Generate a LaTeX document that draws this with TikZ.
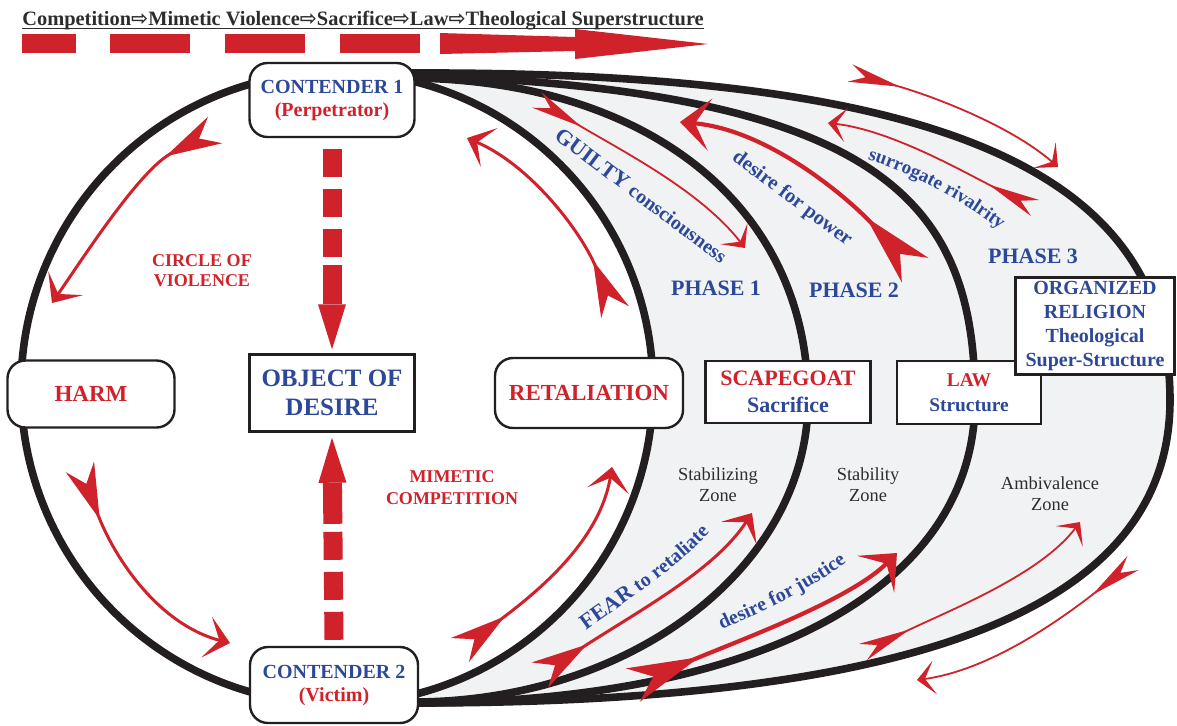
\documentclass[tikz,border=0pt]{standalone}
\usepackage{fontspec}
\setmainfont{Liberation Serif}
\newfontfamily\symfont{DejaVu Sans}
\usetikzlibrary{arrows.meta,decorations.text}
\definecolor{vred}{RGB}{207,34,42}
\definecolor{vblue}{RGB}{44,72,152}
\definecolor{vblack}{RGB}{35,31,32}
\definecolor{vgray}{RGB}{241,242,244}
\definecolor{vtext}{RGB}{45,45,45}
\begin{document}
\begin{tikzpicture}[x=0.5pt,y=-0.5pt,
  ring/.style={draw=vblack,line width=3.8pt},
  softbox/.style={draw=vblack,line width=1.2pt,fill=white,rounded corners=9pt,inner sep=0pt,align=center},
  hardbox/.style={draw=vblack,line width=1.2pt,fill=white,inner sep=0pt,align=center},
  dashup/.style={draw=vred,line width=9.5pt,dash pattern=on 14pt off 6pt on 14pt off 6pt on 14pt off 4pt on 60pt,-{Triangle[length=22.5pt,width=14pt,line width=0pt]}},
  thinarrow/.style={draw=vred,line width=0.9pt,arrows={Stealth[reversed,length=26pt,width=9pt,inset=8pt]-Stealth[length=9pt,width=17pt,inset=5pt]}},
  midarrow/.style={draw=vred,line width=1.5pt,arrows={Stealth[reversed,length=28pt,width=15pt,inset=9pt]-Stealth[length=12pt,width=21pt,inset=6.5pt]}},
  bigarrow/.style={draw=vred,line width=2.1pt,arrows={Stealth[reversed,length=36pt,width=18pt,inset=11pt]-Stealth[length=15pt,width=26pt,inset=7.5pt]}},
  curvetext/.style={decorate,decoration={text along path,text align=center,text color=vblue,text={#1}}},
]
\useasboundingbox (0,0) rectangle (1177,725);
\fill[vgray] (410,73) .. controls (942,73) and (1170,171) .. (1170,400) .. controls (1170,606) and (927,703) .. (413,703) -- cycle;
\fill[white] (337,388) circle [radius=316];
\draw[ring] (410,78) .. controls (649,80) and (808,207) .. (808,400) .. controls (808,567) and (631,702) .. (413,702);
\draw[ring] (410,75) .. controls (880,90) and (975,200) .. (975,400) .. controls (975,588) and (761,703) .. (413,703);
\draw[ring] (410,73) .. controls (942,71) and (1170,171) .. (1170,400) .. controls (1170,606) and (927,703) .. (413,703);
\draw[ring] (337,388) circle [radius=316];

\draw[midarrow] (215,130) .. controls (140,170) and (85,255) .. (52,303);
\draw[midarrow] (80,467) .. controls (115,560) and (160,625) .. (230,643);
\draw[midarrow] (615,312) .. controls (580,230) and (530,165) .. (467,138);
\draw[midarrow] (460,650) .. controls (540,590) and (600,540) .. (612,467);
\draw[thinarrow] (537,100) .. controls (620,150) and (700,190) .. (745,248);
\draw[midarrow] (540,675) .. controls (640,610) and (715,570) .. (752,513);
\draw[bigarrow] (915,270) .. controls (850,200) and (770,130) .. (680,122);
\draw[bigarrow] (633,685) .. controls (740,640) and (850,600) .. (897,553);
\draw[thinarrow] (1035,208) .. controls (960,170) and (890,130) .. (828,123);
\draw[thinarrow] (863,652) .. controls (950,610) and (1040,575) .. (1080,522);
\draw[thinarrow] (850,73) .. controls (930,95) and (1010,125) .. (1058,167);
\draw[thinarrow] (1133,563) .. controls (1060,620) and (990,670) .. (917,680);

\path[curvetext={|\fontsize{11}{13}\selectfont\bfseries|GUILTY |\fontsize{10}{12}\selectfont\bfseries|consciousness}] (545,132) -- (729,270);
\path[curvetext={|\fontsize{10.3}{12}\selectfont\bfseries|desire for power}] (725,155) -- (853,251);
\path[curvetext={|\fontsize{9.5}{11}\selectfont\bfseries|surrogate rivalrity}] (855,156) .. controls (900,168) and (960,196) .. (1010,238);
\path[curvetext={|\fontsize{11}{13}\selectfont\bfseries|FEAR |\fontsize{10}{12}\selectfont\bfseries|to retaliate}] (578,636) .. controls (620,605) and (680,568) .. (716,525);
\path[curvetext={|\fontsize{10}{12}\selectfont\bfseries|desire for justice}] (711,635) .. controls (746,618) and (806,595) .. (856,555);

\node[font=\fontsize{9}{10}\selectfont\bfseries,text=vred,align=center] (violence) at (202,271) {CIRCLE OF\\VIOLENCE};
\node[font=\fontsize{9}{11}\selectfont\bfseries,text=vred,align=center] (mimetic) at (452,488) {MIMETIC\\COMPETITION};
\node[font=\fontsize{11}{13}\selectfont\bfseries,text=vblue] (phase1) at (716,288) {PHASE 1};
\node[font=\fontsize{11}{13}\selectfont\bfseries,text=vblue] (phase2) at (854,290) {PHASE 2};
\node[font=\fontsize{11}{13}\selectfont\bfseries,text=vblue] (phase3) at (1033,256) {PHASE 3};
\node[font=\fontsize{9.2}{10.5}\selectfont,text=vtext,align=center] (zone1) at (718,485) {Stabilizing\\Zone};
\node[font=\fontsize{9.2}{10.5}\selectfont,text=vtext,align=center] (zone2) at (868,485) {Stability\\Zone};
\node[font=\fontsize{9.2}{10.5}\selectfont,text=vtext,align=center] (zone3) at (1050,494) {Ambivalence\\Zone};

\node[softbox,minimum width=82.5pt,minimum height=37pt,font=\fontsize{10}{11.5}\selectfont\bfseries] (con1) at (332,100) {\textcolor{vblue}{CONTENDER 1}\\\textcolor{vred}{(Perpetrator)}};
\node[softbox,minimum width=84pt,minimum height=38pt,font=\fontsize{10}{11.5}\selectfont\bfseries] (con2) at (334,685) {\textcolor{vblue}{CONTENDER 2}\\\textcolor{vred}{(Victim)}};
\node[softbox,minimum width=83.5pt,minimum height=33.5pt,font=\fontsize{11.5}{13}\selectfont\bfseries,text=vred] (harm) at (91,394) {HARM};
\node[hardbox,minimum width=82.5pt,minimum height=38.5pt,font=\fontsize{12.5}{14.5}\selectfont\bfseries,text=vblue] (object) at (332,393) {OBJECT OF\\DESIRE};
\node[softbox,minimum width=94pt,minimum height=35pt,font=\fontsize{11.5}{13}\selectfont\bfseries,text=vred] (retal) at (589,393) {RETALIATION};
\node[hardbox,minimum width=82.5pt,minimum height=31pt,font=\fontsize{11}{13.5}\selectfont\bfseries] (scape) at (788,392) {\textcolor{vred}{SCAPEGOAT}\\\textcolor{vblue}{Sacrifice}};
\node[hardbox,minimum width=72pt,minimum height=31.5pt,font=\fontsize{9.7}{12.5}\selectfont\bfseries] (law) at (969,392.5) {\textcolor{vred}{LAW}\\\textcolor{vblue}{Structure}};
\node[hardbox,line width=1.4pt,minimum width=79.5pt,minimum height=48.5pt,font=\fontsize{10}{12}\selectfont\bfseries,text=vblue] (relig) at (1095,326) {ORGANIZED\\RELIGION\\Theological\\Super-Structure};

\draw[dashup] ([yshift=-5.5pt]con1.south) -- ([yshift=2pt]object.north);
\draw[dashup] ([yshift=3pt]con2.north) -- ([yshift=-2.5pt]object.south);

\node[anchor=base west,inner sep=0pt,font=\fontsize{10.2}{12}\selectfont\bfseries,text=vtext] (title) at (22,25) {Competition{\symfont ⇨}Mimetic Violence{\symfont ⇨}Sacrifice{\symfont ⇨}Law{\symfont ⇨}Theological Superstructure};
\draw[vtext,line width=0.6pt] ([yshift=-1.8pt]title.base west) -- ([yshift=-1.8pt]title.base east);
\foreach \a/\b in {22/76,110/190,225/305,340/420} \fill[vred] (\a,34) rectangle (\b,53);
\fill[vred] (440,33) -- (575,37) -- (575,29) -- (708,44) -- (575,59) -- (575,51) -- (440,54) -- cycle;
\end{tikzpicture}
\end{document}
